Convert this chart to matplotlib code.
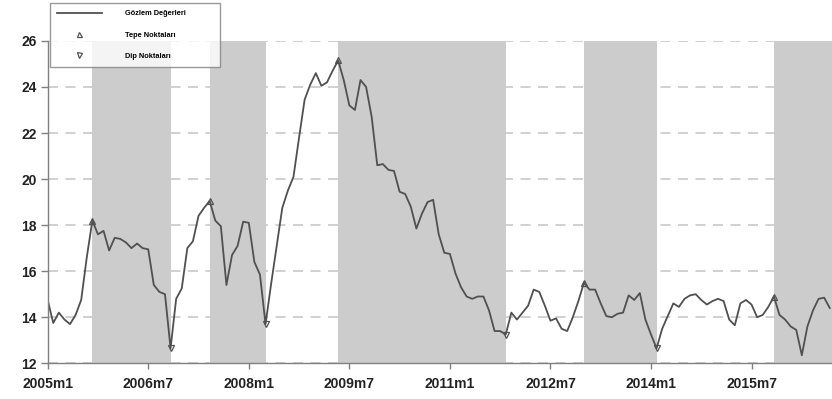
import matplotlib.pyplot as plt

plt.rcParams["font.family"] = ["Liberation Sans", "DejaVu Sans"]

# monthly observations, 2005m1 .. 2016m9
values = [
    14.75, 13.75, 14.2, 13.9, 13.7, 14.1, 14.75, 16.6, 18.2, 17.6,
    17.75, 16.9, 17.45, 17.4, 17.25, 17.0, 17.2, 17.0, 16.95, 15.4,
    15.1, 15.0, 12.65, 14.8, 15.25, 17.0, 17.3, 18.4, 18.75, 19.05,
    18.2, 17.95, 15.4, 16.7, 17.1, 18.15, 18.1, 16.4, 15.85, 13.7,
    15.45, 17.1, 18.75, 19.5, 20.1, 21.8, 23.45, 24.1, 24.6, 24.05,
    24.2, 24.7, 25.15, 24.3, 23.2, 23.0, 24.3, 24.0, 22.7, 20.6,
    20.65, 20.4, 20.35, 19.45, 19.35, 18.8, 17.85, 18.5, 19.0, 19.1,
    17.6, 16.8, 16.75, 15.9, 15.3, 14.9, 14.8, 14.9, 14.9, 14.3,
    13.4, 13.4, 13.25, 14.2, 13.9, 14.2, 14.5, 15.2, 15.1, 14.5,
    13.85, 13.95, 13.5, 13.4, 14.0, 14.7, 15.5, 15.2, 15.2, 14.6,
    14.05, 14.0, 14.15, 14.2, 14.95, 14.75, 15.05, 13.9, 13.25, 12.65,
    13.5, 14.05, 14.6, 14.45, 14.8, 14.95, 15.0, 14.75, 14.55, 14.7,
    14.8, 14.7, 13.9, 13.65, 14.6, 14.75, 14.55, 14.0, 14.1, 14.45,
    14.9, 14.1, 13.9, 13.6, 13.45, 12.35, 13.6, 14.3, 14.8, 14.85,
    14.4,
]
peaks = [8, 29, 52, 96, 130]      # month index of turning points
troughs = [22, 39, 82, 109]
tick_pos = [0, 18, 36, 54, 72, 90, 108, 126]
tick_labels = ["2005m1", "2006m7", "2008m1", "2009m7",
               "2011m1", "2012m7", "2014m1", "2015m7"]
y_ticks = [12, 14, 16, 18, 20, 22, 24, 26]


def main():
    x = list(range(len(values)))
    fig = plt.figure(figsize=(8.32, 3.99), dpi=100)
    ax = fig.add_axes([0.0573, 0.0895, 0.9427, 0.808])

    # shading: peak -> trough
    ends = troughs + [x[-1] + 5]
    for p, t in zip(peaks, ends):
        ax.axvspan(p, t, color="#cccccc", lw=0, zorder=1)

    line_col = "#505050"
    ax.plot(x, values, color=line_col, lw=1.3, zorder=3,
            label="Gözlem Değerleri")
    ax.plot(peaks, [values[i] for i in peaks], ls="none", marker="^",
            ms=4, mfc="none", mec=line_col, mew=0.9, zorder=4,
            label="Tepe Noktaları")
    ax.plot(troughs, [values[i] for i in troughs], ls="none", marker="v",
            ms=4, mfc="none", mec=line_col, mew=0.9, zorder=4,
            label="Dip Noktaları")

    ax.set_xlim(0, 140.4)
    ax.set_ylim(12, 26)
    ax.set_yticks(y_ticks)
    ax.set_xticks(tick_pos)
    ax.set_xticklabels(tick_labels)

    ax.set_axisbelow(True)
    ax.yaxis.grid(True, color="#c8c8c8", ls=(0, (6, 4.5)), lw=1.2)
    ax.xaxis.grid(False)

    for s in ["top", "right"]:
        ax.spines[s].set_visible(False)
    for s in ["left", "bottom"]:
        ax.spines[s].set_color("#808080")
        ax.spines[s].set_linewidth(1.0)
        ax.spines[s].set_zorder(5)
    ax.tick_params(axis="y", length=5, width=1, color="#808080", pad=3,
                   labelsize=10)
    ax.tick_params(axis="x", length=4, width=1, color="#808080", pad=6,
                   labelsize=10)
    for lab in ax.get_xticklabels() + ax.get_yticklabels():
        lab.set_fontweight("bold")
        lab.set_color("#222222")

    leg = ax.legend(loc="upper left", bbox_to_anchor=(0.003, 1.118, 0.217, 0),
                    mode="expand", fontsize=5.3, frameon=True, fancybox=False,
                    handlelength=6.0, handletextpad=3.2, labelspacing=1.9,
                    borderpad=1.0, borderaxespad=0, markerscale=0.9)
    leg.get_frame().set_edgecolor("#808080")
    leg.get_frame().set_linewidth(1.0)
    leg.set_zorder(10)
    for t in leg.get_texts():
        t.set_fontweight("bold")

    fig.savefig("out.png", dpi=100)
    plt.close(fig)


if __name__ == "__main__":
    main()
